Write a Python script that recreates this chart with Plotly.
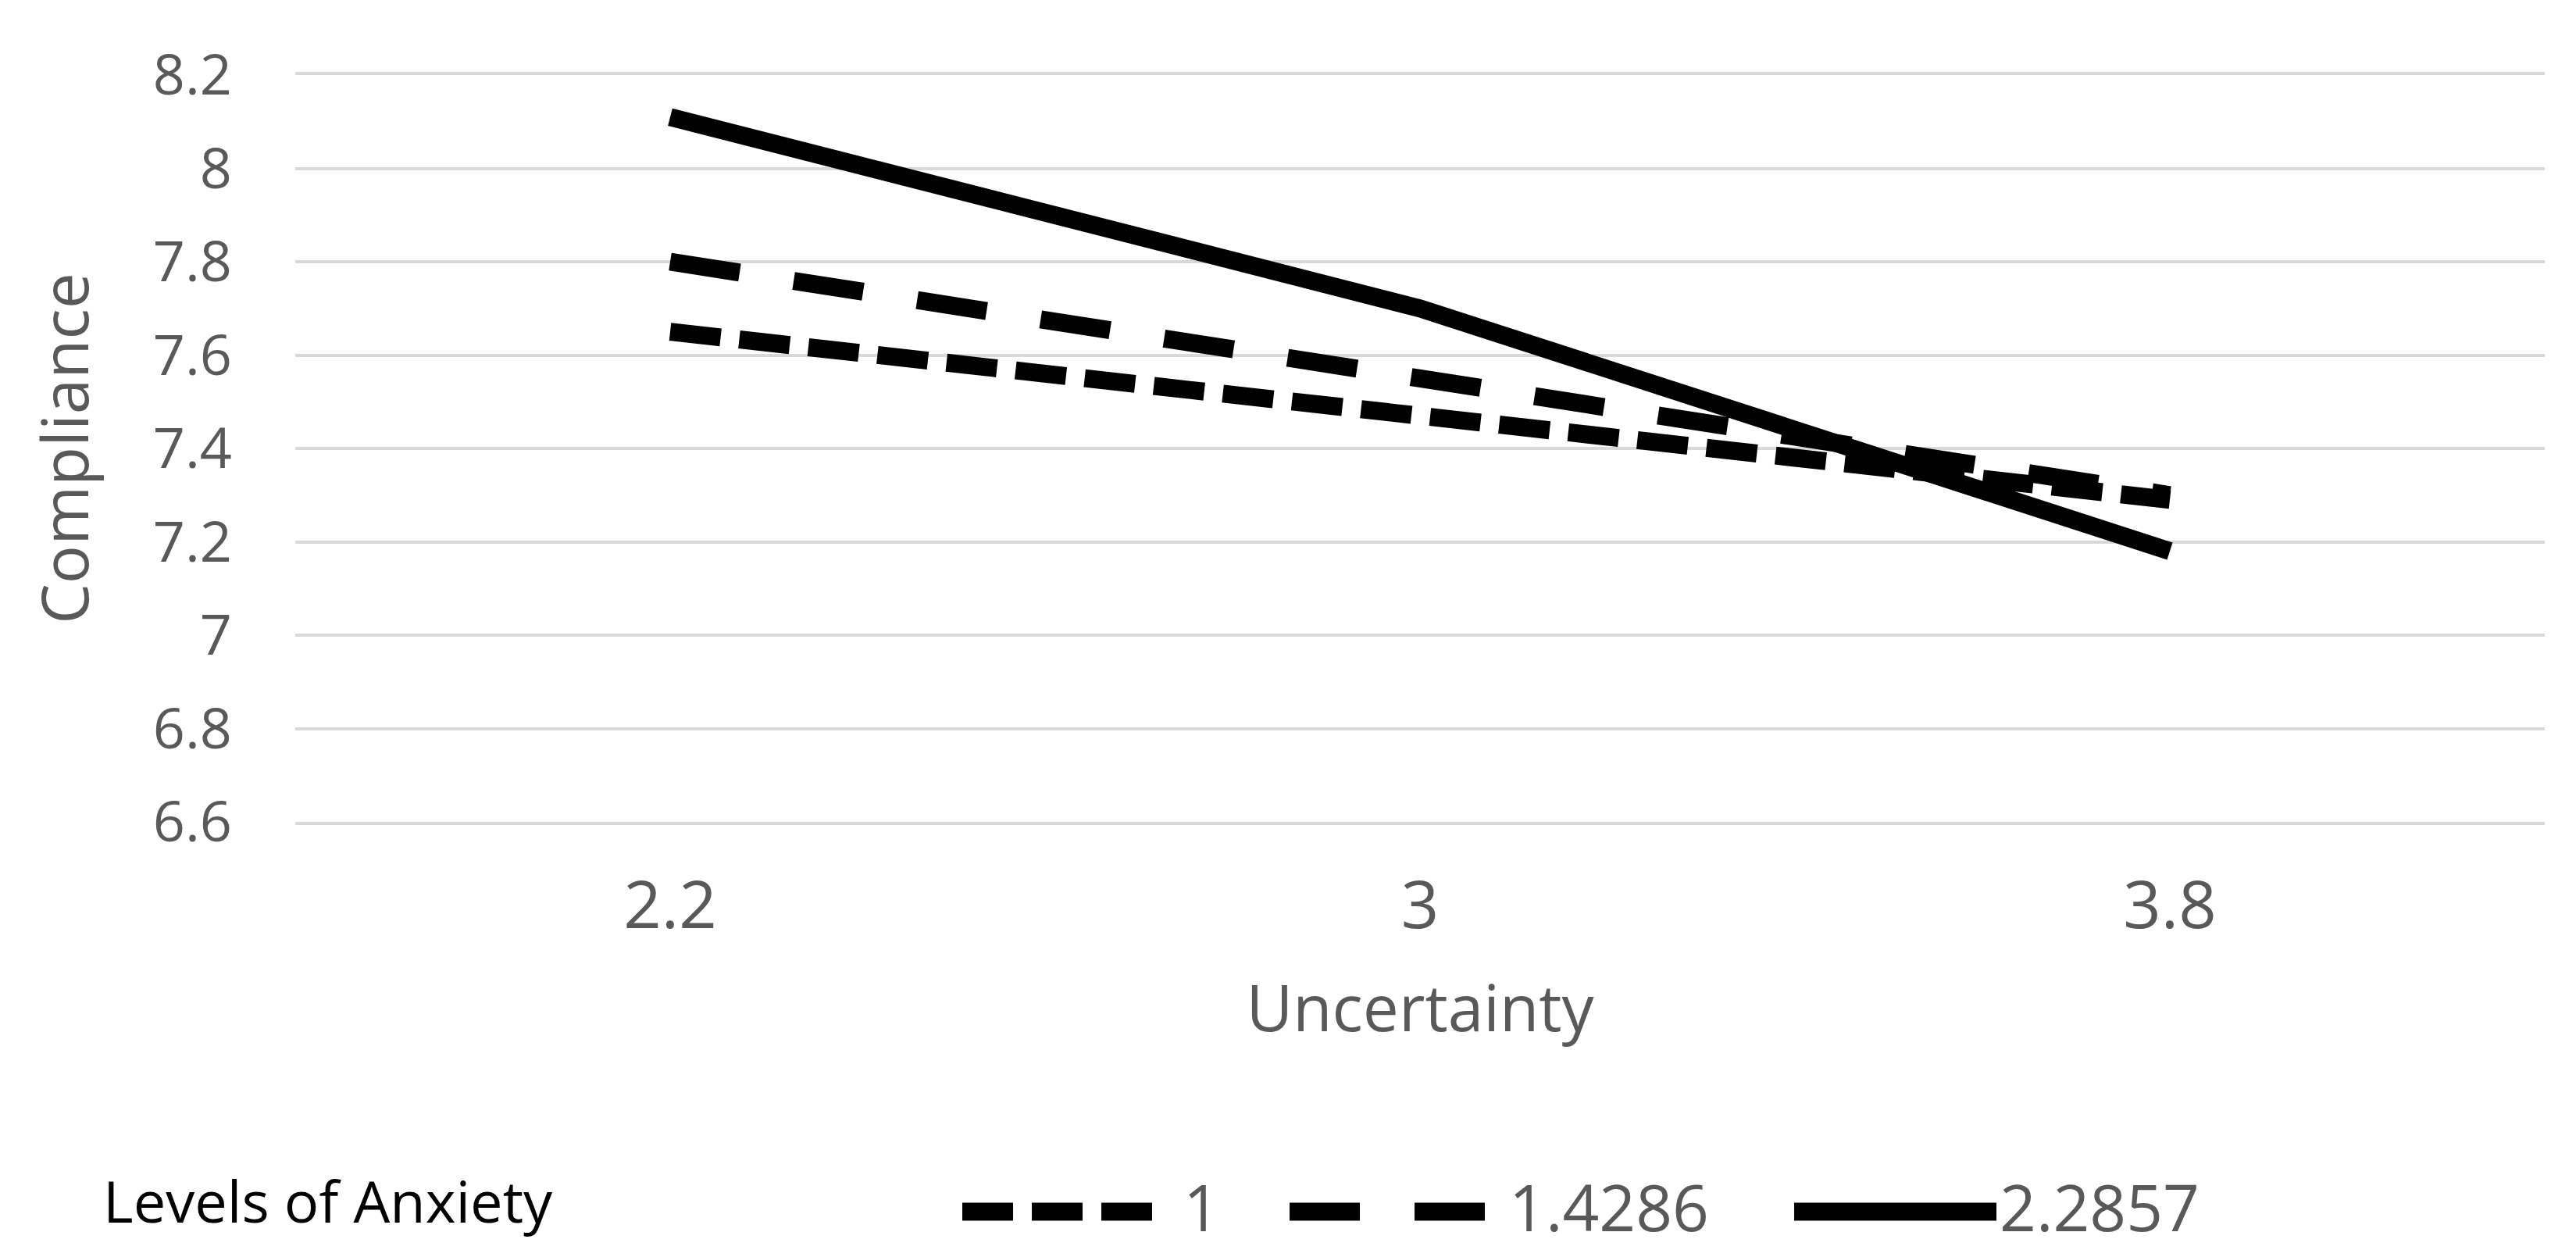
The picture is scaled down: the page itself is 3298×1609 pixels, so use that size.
import plotly.graph_objects as go

# ---------------- data ----------------
categories = ["2.2", "3", "3.8"]
series_names = ["1", "1.4286", "2.2857"]
anxiety_low = [7.65, 7.47, 7.29]      # Levels of Anxiety = 1
anxiety_mid = [7.80, 7.55, 7.30]      # Levels of Anxiety = 1.4286
anxiety_high = [8.11, 7.70, 7.18]     # Levels of Anxiety = 2.2857
y_tick_values = [6.6, 6.8, 7.0, 7.2, 7.4, 7.6, 7.8, 8.0, 8.2]
y_tick_labels = ["6.6", "6.8", "7", "7.2", "7.4", "7.6", "7.8", "8", "8.2"]
x_title = "Uncertainty"
y_title = "Compliance"
legend_title = "Levels of Anxiety"

# ---------------- styles ----------------
W, H = 3298, 1609
ML, MR, MT, MB = 370, 48, 88, 565
FONT = "Open Sans"
GRAY = "#595959"
GRID = "#d9d9d9"
LW = 23
dash_styles = ["65px,24px", "90px,70px", "solid"]
series_values = [anxiety_low, anxiety_mid, anxiety_high]

fig = go.Figure()
for name, vals, dash in zip(series_names, series_values, dash_styles):
    fig.add_trace(go.Scatter(
        x=categories, y=vals, name=name, mode="lines",
        line=dict(color="black", width=LW, dash=dash),
        showlegend=False,
    ))

fig.update_layout(
    width=W, height=H,
    margin=dict(l=ML, r=MR, t=MT, b=MB),
    plot_bgcolor="white", paper_bgcolor="white",
    font=dict(family=FONT, color=GRAY),
    showlegend=False,
)
fig.update_xaxes(
    type="category", range=[-0.5, 2.5],
    showgrid=False, zeroline=False,
    showline=True, mirror=True, linecolor=GRID, linewidth=4, ticks="",
    tickfont=dict(size=85, color=GRAY, family=FONT),
    ticklabelstandoff=30,
    title=dict(text=x_title, font=dict(size=82, color=GRAY, family=FONT), standoff=52),
)
fig.update_yaxes(
    range=[6.6, 8.2], tickmode="array", tickvals=y_tick_values, ticktext=y_tick_labels,
    showgrid=True, gridcolor=GRID, gridwidth=4,
    zeroline=False, showline=False, ticks="",
    tickfont=dict(size=72, color=GRAY, family=FONT),
    ticklabelstandoff=80,
    title=dict(text=y_title, font=dict(size=82, color=GRAY, family=FONT), standoff=55),
)

# ---------------- manual legend (long line samples as in the original) ----------------
PW = W - ML - MR
PH = H - MT - MB

def px(xp):
    return (xp - ML) / PW

def py(yp):
    return (H - MB - yp) / PH

leg_sample_y = 1543
leg_label_y = 1536
leg_samples = [(1224, 1473), (1643, 1897), (2289, 2548)]
leg_label_x = [1505, 1922, 2550]

for (x0, x1), dash in zip(leg_samples, dash_styles):
    fig.add_shape(type="line", xref="paper", yref="paper",
                  x0=px(x0), x1=px(x1), y0=py(leg_sample_y), y1=py(leg_sample_y),
                  line=dict(color="black", width=LW, dash=dash))
for name, lx in zip(series_names, leg_label_x):
    fig.add_annotation(text=name, xref="paper", yref="paper", x=px(lx), y=py(leg_label_y),
                       xanchor="left", yanchor="middle", showarrow=False,
                       font=dict(size=82, color=GRAY, family=FONT))
fig.add_annotation(text=legend_title, xref="paper", yref="paper", x=px(122), y=py(1528),
                   xanchor="left", yanchor="middle", showarrow=False,
                   font=dict(size=74, color="black", family=FONT))

fig.write_html("out.html")
